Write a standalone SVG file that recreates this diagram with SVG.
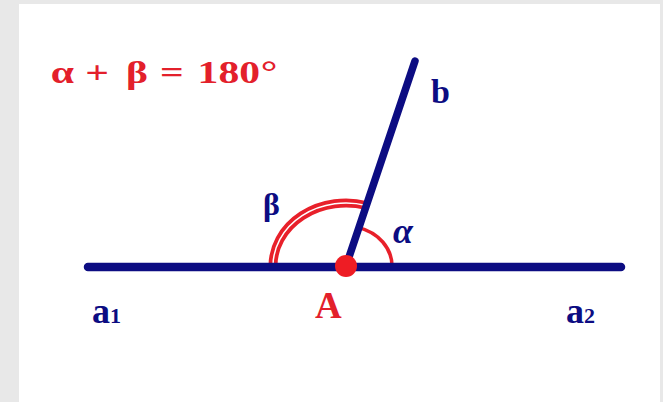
<svg xmlns="http://www.w3.org/2000/svg" width="663" height="402" viewBox="0 0 663 402">
<style>
.navy{fill:#0c0c82;font-family:"Liberation Serif","Times New Roman",serif;font-weight:bold}
.red{fill:#e3202b;font-family:"Liberation Serif","Times New Roman",serif;font-weight:bold}
.line{stroke:#0c0c82;stroke-linecap:round;fill:none}
.arc{fill:none}
</style>
<rect x="0" y="0" width="663" height="402" fill="#e8e8e8"/>
<rect x="19" y="4" width="641" height="398" fill="#ffffff"/>
<g id="formula">
<text class="red" transform="translate(50.7,83.3) scale(1.3,1)" font-size="32"><tspan x="0" y="0">α</tspan><tspan x="26.5" y="0">+</tspan><tspan x="58" y="0">β</tspan><tspan x="84" y="0">=</tspan><tspan x="113" y="0">180</tspan><tspan x="161.5" y="0">°</tspan></text>
</g>
<g id="connectors">
<path id="arc-beta" class="arc" d="M 273 266 A 73 63 0 0 1 366.3 205.5" stroke="#e8202a" stroke-width="9"/>
<path class="arc" d="M 273 266 A 73 63 0 0 1 366.3 205.5" stroke="#ffffff" stroke-width="1.5"/>
<path id="arc-alpha" class="arc" d="M 392 266 A 46 40 0 0 0 358.8 227.6" stroke="#e8202a" stroke-width="3.5"/>
<line id="line-a" class="line" x1="88" y1="267" x2="621" y2="267" stroke-width="8.5"/>
<line id="line-b" class="line" x1="346" y1="266" x2="415" y2="61" stroke-width="7.5"/>
</g>
<g id="point-A">
<circle cx="346" cy="266" r="11" fill="#ee1c24"/>
<text class="red" x="315" y="318" font-size="37">A</text>
</g>
<g id="label-b"><text class="navy" x="431" y="103" font-size="34">b</text></g>
<g id="label-beta"><text class="navy" x="263" y="215" font-size="32">β</text></g>
<g id="label-alpha"><text class="navy" x="393" y="243" font-size="36" font-style="italic">α</text></g>
<g id="label-a1"><text class="navy" x="92" y="323" font-size="36">a<tspan font-size="22">1</tspan></text></g>
<g id="label-a2"><text class="navy" x="566" y="323" font-size="36">a<tspan font-size="22">2</tspan></text></g>
</svg>
